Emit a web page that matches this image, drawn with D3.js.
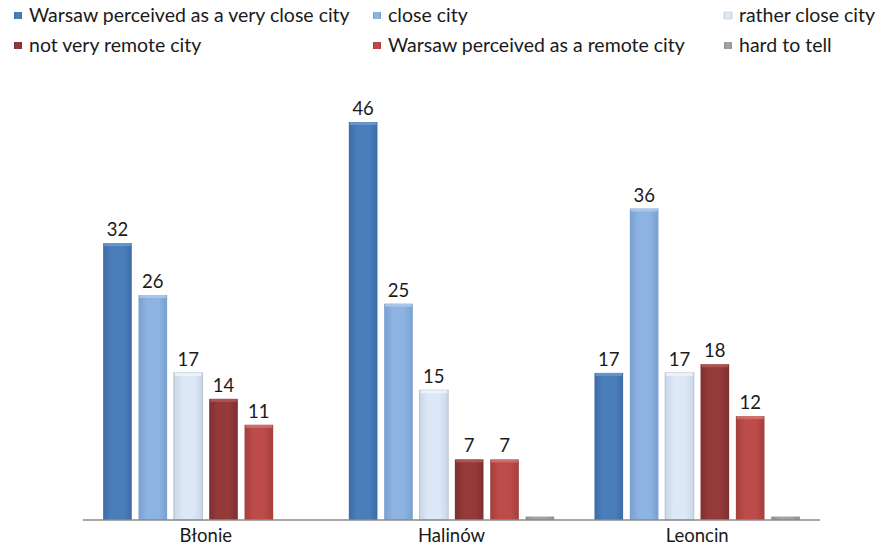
<!DOCTYPE html>
<html>
<head>
<meta charset="utf-8">
<script src="https://cdn.jsdelivr.net/npm/d3@7"></script>
<style>
  html, body { margin: 0; padding: 0; background: #fff; }
  svg { display: block; font-family: Lato, "Open Sans", sans-serif; }
</style>
</head>
<body>
<svg id="chart" width="883" height="549"></svg>
<script>
// Perception of Warsaw's distance, by locality (%)
const categories = ["Błonie", "Halinów", "Leoncin"];
const seriesNames = [
  "Warsaw perceived as a very close city",
  "close city",
  "rather close city",
  "not very remote city",
  "Warsaw perceived as a remote city",
  "hard to tell"
];
const veryClose   = [32, 46, 17];
const close       = [26, 25, 36];
const ratherClose = [17, 15, 17];
const notVeryRemote = [14, 7, 18];
const remote      = [11, 7, 12];
const hardToTell  = [0, 0.4, 0.4];
// labelled series (hard to tell carries no value label)
const showLabel = [true, true, true, true, true, false];

const seriesValues = [veryClose, close, ratherClose, notVeryRemote, remote, hardToTell];

const colors = [
  { base: "#4a7ebb", dark: "#3d6ca6", light: "#6f9bd2", stroke: "none" },
  { base: "#8db3e2", dark: "#799fcf", light: "#b0cbec", stroke: "none" },
  { base: "#dde8f6", dark: "#c8d6e8", light: "#f2f6fc", stroke: "#b9c3cf" },
  { base: "#943a3a", dark: "#7f2f2f", light: "#b25a5a", stroke: "none" },
  { base: "#bc4b49", dark: "#a33f3d", light: "#d47573", stroke: "none" },
  { base: "#a3a3a3", dark: "#8f8f8f", light: "#c0c0c0", stroke: "none" }
];

const svg = d3.select("#chart");
const defs = svg.append("defs");

colors.forEach((c, i) => {
  const g = defs.append("linearGradient")
    .attr("id", "grad" + i)
    .attr("x1", "0%").attr("x2", "100%").attr("y1", "0%").attr("y2", "0%");
  g.append("stop").attr("offset", "0%").attr("stop-color", c.dark);
  g.append("stop").attr("offset", "30%").attr("stop-color", c.base);
  g.append("stop").attr("offset", "70%").attr("stop-color", c.base);
  g.append("stop").attr("offset", "100%").attr("stop-color", c.dark);
});

const plot = { left: 83, right: 820, bottom: 520 };

const x0 = d3.scaleBand()
  .domain(categories)
  .range([plot.left, plot.right])
  .paddingInner(0.164)
  .paddingOuter(0.082);

const x1 = d3.scaleBand()
  .domain(d3.range(seriesNames.length))
  .range([0, x0.bandwidth()])
  .paddingInner(0.19)
  .paddingOuter(0);

const y = d3.scaleLinear()
  .domain([0, 46])
  .range([plot.bottom, 122]);

const rows = categories.map((cat, ci) => ({
  cat,
  bars: seriesValues.map((vals, si) => ({ si, value: vals[ci] }))
}));

const groups = svg.append("g")
  .selectAll("g")
  .data(rows)
  .join("g")
  .attr("transform", d => `translate(${x0(d.cat)},0)`);

groups.selectAll("rect.bar")
  .data(d => d.bars.filter(b => b.value > 0))
  .join("rect")
  .attr("class", "bar")
  .attr("x", d => x1(d.si))
  .attr("y", d => y(d.value))
  .attr("width", x1.bandwidth())
  .attr("height", d => y(0) - y(d.value))
  .attr("fill", d => `url(#grad${d.si})`)
  .attr("stroke", d => colors[d.si].stroke)
  .attr("stroke-width", 1);

// light cap along the top edge of each bar
groups.selectAll("rect.cap")
  .data(d => d.bars.filter(b => b.value > 1))
  .join("rect")
  .attr("class", "cap")
  .attr("x", d => x1(d.si) + 1)
  .attr("y", d => y(d.value))
  .attr("width", x1.bandwidth() - 2)
  .attr("height", 3)
  .attr("fill", d => colors[d.si].light)
  .attr("opacity", 0.8);

groups.selectAll("text.val")
  .data(d => d.bars.filter(b => showLabel[b.si]))
  .join("text")
  .attr("class", "val")
  .attr("x", d => x1(d.si) + x1.bandwidth() / 2)
  .attr("y", d => y(d.value) - 7)
  .attr("text-anchor", "middle")
  .attr("font-size", 18.5)
  .attr("fill", "#1a1a1a")
  .text(d => d.value);

// category axis
const xAxis = svg.append("g")
  .attr("transform", `translate(0,${plot.bottom})`)
  .call(d3.axisBottom(x0).tickSize(0).tickPadding(9));
xAxis.select(".domain")
  .attr("stroke", "#8a8a8a")
  .attr("stroke-width", 1.5)
  .attr("d", `M${plot.left},0H${plot.right}`);
xAxis.selectAll("text")
  .attr("font-size", 18.5)
  .attr("font-family", "Lato, 'Open Sans', sans-serif")
  .attr("fill", "#1a1a1a");

// legend: two rows, three columns
const legendCols = [14, 373, 724];
const legendRows = [15, 45];
const legendItems = seriesNames.map((name, i) => ({
  name, i,
  x: legendCols[i % 3],
  y: legendRows[Math.floor(i / 3)]
}));
const legend = svg.append("g")
  .selectAll("g")
  .data(legendItems)
  .join("g")
  .attr("transform", d => `translate(${d.x},${d.y})`);

legend.append("rect")
  .attr("x", 0)
  .attr("y", -3)
  .attr("width", 8)
  .attr("height", 7)
  .attr("fill", d => `url(#grad${d.i})`)
  .attr("stroke", d => colors[d.i].stroke === "none" ? "none" : "#c7ced8")
  .attr("stroke-width", 0.6);

legend.append("text")
  .attr("x", 15)
  .attr("y", 0)
  .attr("dy", "0.35em")
  .attr("font-size", 19.5)
  .attr("fill", "#1a1a1a")
  .text(d => d.name);
</script>
</body>
</html>
